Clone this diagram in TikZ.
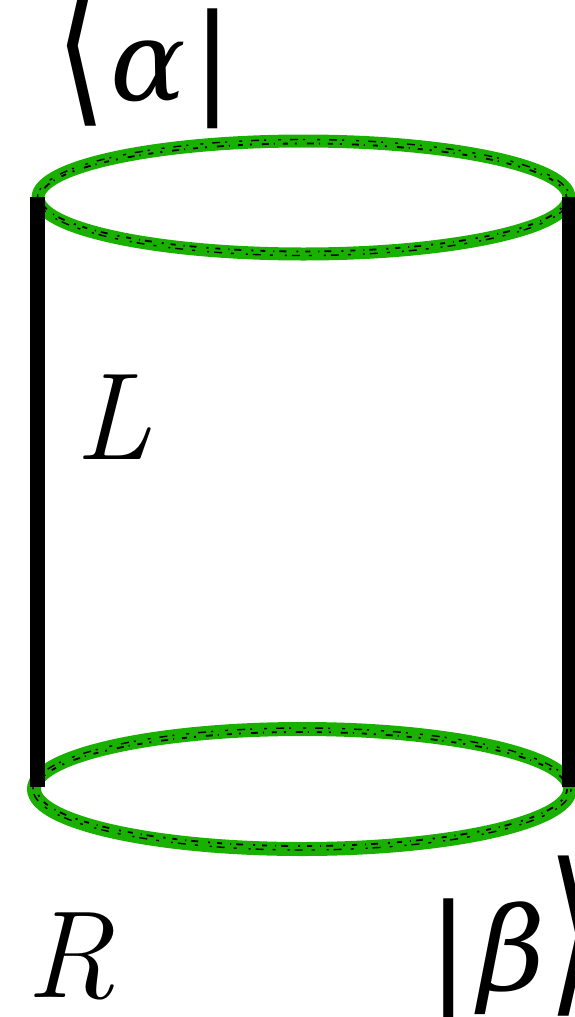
\documentclass[tikz,border=0pt]{standalone}
\usepackage{fontspec}
\newfontfamily\greekfont{DejaVu Serif}
\newfontfamily\symfont{DejaVu Sans}
\definecolor{rimgreen}{RGB}{26,176,0}
\tikzset{
  rim/.style={draw=rimgreen, line width=13pt},
  speck/.style={draw=black, line width=1.8pt, dash pattern=on 5pt off 7pt on 2pt off 10pt on 7pt off 5pt on 1pt off 8pt},
  speckb/.style={draw=black, line width=1.4pt, dash pattern=on 3pt off 9pt on 8pt off 5pt on 2pt off 12pt},
  wall/.style={draw=black, line width=15pt, line cap=butt},
  lab/.style={inner sep=0pt, outer sep=0pt}
}
\begin{document}
\begin{tikzpicture}[x=1pt,y=-1pt]
\useasboundingbox (0,0) rectangle (575,1017);
% top rim
\draw[rim] (303.5,197.5) ellipse [x radius=265.5, y radius=56.5];
\draw[speck] (303.5,197.5) ellipse [x radius=263, y radius=54];
\draw[speckb] (303.5,197.5) ellipse [x radius=266, y radius=58];
% bottom rim
\draw[rim, line width=14pt] (302,789) ellipse [x radius=268, y radius=60];
\draw[speck] (302,789) ellipse [x radius=265, y radius=57];
\draw[speckb] (302,789) ellipse [x radius=269, y radius=61];
% walls
\coordinate (tl) at (37,197);
\coordinate (bl) at (37,787);
\coordinate (tr) at (569,197);
\coordinate (br) at (569,787);
\draw[wall] (tl) -- (bl);
\draw[wall] (tr) -- (br);
% labels
\node[lab, anchor=base west] (bra) at (55,100)
  {\fontsize{120}{120}\selectfont\raisebox{-2pt}{\scalebox{1.1}[1.5]{\symfont ⟨}}\kern4pt{\fontsize{112}{112}\selectfont\greekfont\itshape α}\kern6pt{\symfont |}};
\node[lab, anchor=base west] (L) at (75,459) {\fontsize{124}{124}\selectfont\itshape L};
\node[lab, anchor=base west] (R) at (27,997) {\fontsize{124}{124}\selectfont\itshape R};
\node[lab, anchor=base west] (ket) at (428,990)
  {\fontsize{120}{120}\selectfont{\symfont |}\kern10pt{\fontsize{116}{116}\selectfont\greekfont\itshape β}\kern2pt\raisebox{-2pt}{\scalebox{1.1}[1.5]{\symfont ⟩}}};
\end{tikzpicture}
\end{document}
